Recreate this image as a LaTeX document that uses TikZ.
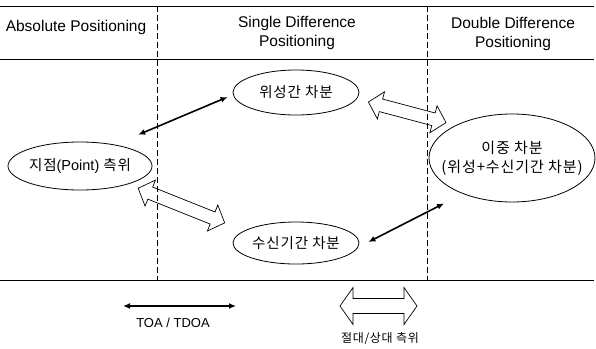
\documentclass[tikz,border=0pt]{standalone}
\usepackage{fontspec}
\setmainfont{Liberation Sans}
\newfontfamily\kr[LetterSpace=6]{Noto Sans CJK KR}
\usetikzlibrary{shapes.geometric,arrows.meta,calc}

\newcommand\hollowarrow[4]{%
  \coordinate (ha1) at ($(#1)!13pt!(#2)$);
  \coordinate (hb1) at ($(#2)!13pt!(#1)$);
  \draw[line width=0.7pt] (#1) -- ($(ha1)!#3!90:(#2)$) -- ($(ha1)!#4!90:(#2)$)
    -- ($(hb1)!#4!-90:(#1)$) -- ($(hb1)!#3!-90:(#1)$) -- (#2)
    -- ($(hb1)!#3!90:(#1)$) -- ($(hb1)!#4!90:(#1)$)
    -- ($(ha1)!#4!-90:(#2)$) -- ($(ha1)!#3!-90:(#2)$) -- cycle;}

\begin{document}
\begin{tikzpicture}[x=1pt,y=-1pt,
  ell/.style={draw,ellipse,inner sep=0pt,line width=0.8pt},
  head/.style={font=\fontsize{15.5}{19}\selectfont,align=center},
  lbl/.style={font=\kr\fontsize{14.5}{19}\selectfont,align=center},
  blk/.style={{Latex[length=7pt,width=6pt]}-{Latex[length=7pt,width=6pt]},line width=1.6pt},
  sep/.style={dash pattern=on 6pt off 3pt,line width=0.8pt}]
\useasboundingbox (0,0) rectangle (596,348);

\draw[line width=0.8pt] (0,6)--(594,6);
\draw[line width=0.8pt] (0,59)--(594,59);
\draw[line width=0.8pt] (0,280)--(594,280);
\draw[sep] (157,6)--(157,280);
\draw[sep] (427,6)--(427,280);

\node[head] (absp) at (76,27) {Absolute Positioning};
\node[head] (sglp) at (297,33) {Single Difference\\Positioning};
\node[head] (dblp) at (513,34) {Double Difference\\Positioning};

\node[ell,minimum width=144pt,minimum height=48pt] (pnt) at (80,166) {};
\node[font=\fontsize{14.5}{19}\selectfont] (pntt) at (pnt) {{\kr 지점}(Point) {\kr 측위}};
\node[ell,minimum width=126pt,minimum height=45pt] (sat) at (296,92.5) {};
\node[lbl] (satt) at (sat) {위성간 차분};
\node[ell,minimum width=126pt,minimum height=42pt] (rcv) at (296,243) {};
\node[lbl] (rcvt) at (rcv) {수신기간 차분};
\node[ell,minimum width=166pt,minimum height=88pt] (dd) at (512,158) {};
\node[lbl,font=\kr\fontsize{15}{19}\selectfont] (ddt) at (dd) {이중 차분\\(위성+수신기간 차분)};

\draw[blk] ([shift={(7,-14)}]pnt.north east) -- ([shift={(-5,4.5)}]sat.west);
\draw[blk] ([shift={(9,-1)}]rcv.east) -- ([shift={(-9,14)}]dd.south west);

\coordinate (b1) at ([shift={(7,5)}]pnt.south east);
\coordinate (b2) at ([shift={(-26.5,-5)}]rcv.north west);
\hollowarrow{b1}{b2}{14pt}{6.5pt}
\coordinate (c1) at ([shift={(9,9.5)}]sat.east);
\coordinate (c2) at ([shift={(-7,-4)}]dd.north west);
\hollowarrow{c1}{c2}{14pt}{6.5pt}

\coordinate (toaL) at (123,306);
\coordinate (toaR) at (236,306);
\draw[blk] (toaL) -- (toaR);
\node[font=\fontsize{13}{15}\selectfont] (toa) at (173,323) {TOA / TDOA};

\coordinate (relL) at (340,306);
\coordinate (relR) at (417,306);
\hollowarrow{relL}{relR}{18.5pt}{7.5pt}
\node[font=\kr\fontsize{12}{14}\selectfont] (rel) at (380,339) {절대/상대 측위};
\end{tikzpicture}
\end{document}
